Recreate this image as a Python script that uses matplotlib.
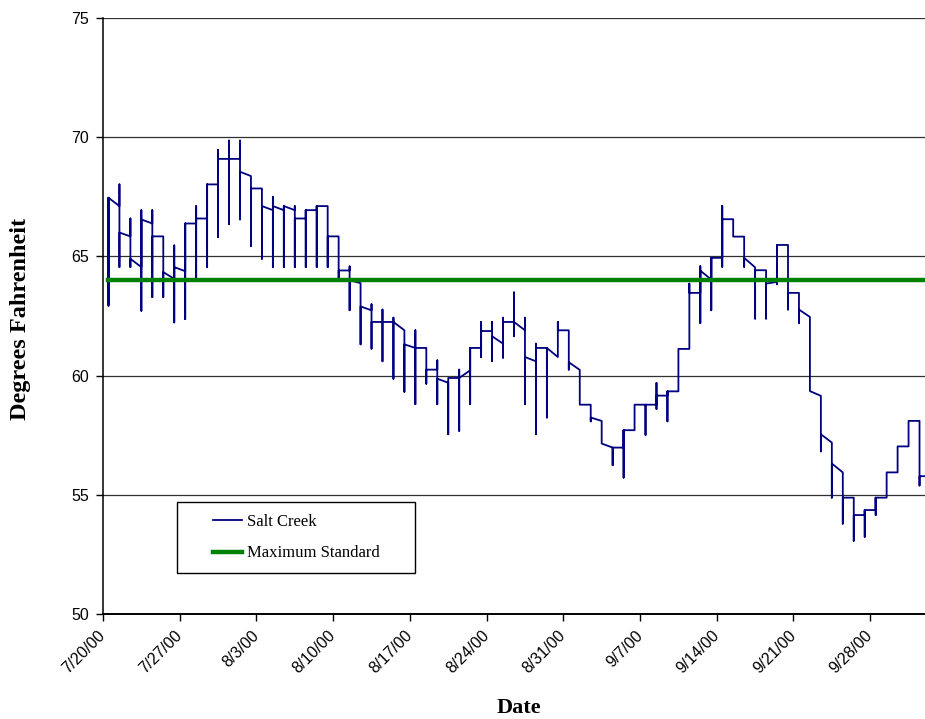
import matplotlib
matplotlib.use('Agg')
import matplotlib.pyplot as plt
from matplotlib.patches import Rectangle
import numpy as np
import pandas as pd

# daily readings, Salt Creek (deg F): first, highest, lowest, last reading of the day
day_open = [63.0, 67.11, 65.84, 64.55, 66.38, 65.84, 64.06, 64.38, 66.38, 66.59,
            68.02, 69.09, 69.09, 68.37, 67.85, 66.94, 66.94, 66.94, 66.59, 66.94,
            67.11, 65.84, 64.41, 63.88, 62.74, 62.25, 62.25, 61.9, 61.16, 61.16,
            60.25, 59.7, 59.9, 60.22, 61.16, 61.87, 61.34, 62.25, 61.9, 60.6,
            61.16, 60.78, 61.9, 60.24, 58.78, 58.1, 56.98, 56.98, 57.71, 58.78,
            58.78, 59.16, 59.34, 61.12, 63.47, 64.03, 64.94, 66.56, 65.83, 64.54,
            64.42, 63.93, 65.48, 63.47, 62.46, 59.15, 57.19, 55.94, 54.88, 54.15,
            54.36, 54.88, 55.94, 57.03, 58.1, 55.78]
day_high = [67.46, 68.02, 66.59, 66.94, 66.94, 65.84, 65.46, 66.38, 67.11, 68.02,
            69.47, 69.86, 69.86, 68.37, 67.85, 67.5, 67.11, 67.11, 66.94, 67.11,
            67.11, 65.84, 64.58, 63.88, 62.99, 62.77, 62.43, 61.9, 61.9, 61.16,
            60.64, 59.87, 60.25, 61.16, 62.25, 62.25, 62.43, 63.49, 62.43, 61.34,
            61.16, 62.25, 61.9, 60.24, 58.78, 58.1, 56.98, 57.71, 58.78, 58.78,
            59.69, 59.34, 61.12, 63.86, 64.59, 64.94, 67.12, 66.56, 65.83, 64.54,
            64.42, 65.48, 65.48, 63.47, 62.46, 59.15, 57.19, 55.94, 54.88, 54.36,
            54.88, 55.94, 57.03, 58.1, 58.1, 55.78]
day_low = [62.93, 64.55, 64.55, 62.72, 63.29, 63.29, 62.23, 62.37, 63.99, 64.55,
           65.81, 66.35, 66.55, 65.44, 64.9, 64.55, 64.55, 64.55, 64.55, 64.55,
           64.55, 63.99, 62.74, 61.31, 61.13, 60.6, 59.87, 59.32, 58.8, 59.66,
           58.8, 57.54, 57.68, 58.8, 60.78, 60.61, 60.75, 61.65, 58.8, 57.54,
           58.24, 60.78, 60.25, 58.78, 58.08, 57.15, 56.24, 55.72, 57.71, 57.51,
           58.6, 58.08, 59.34, 61.12, 62.2, 62.74, 64.56, 65.83, 64.56, 62.39,
           62.39, 63.83, 62.77, 62.2, 59.35, 56.82, 54.88, 53.79, 53.07, 53.24,
           54.15, 54.88, 55.94, 57.03, 55.39, 55.78]
day_close = [67.46, 66.0, 64.9, 66.55, 65.84, 64.34, 64.55, 66.38, 66.59, 68.02,
             69.09, 69.09, 68.55, 67.85, 67.11, 67.11, 67.11, 66.59, 66.94, 67.11,
             65.84, 64.41, 64.0, 62.9, 62.25, 62.25, 62.25, 61.31, 61.16, 60.25,
             59.87, 59.9, 59.9, 61.16, 61.87, 61.65, 62.25, 62.25, 60.78, 61.16,
             61.16, 61.9, 60.56, 58.78, 58.24, 57.15, 56.98, 57.71, 58.78, 58.78,
             59.16, 59.34, 61.12, 63.47, 64.4, 64.94, 66.56, 65.83, 64.94, 64.42,
             63.86, 65.48, 63.47, 62.77, 59.35, 57.54, 56.31, 54.88, 54.15, 54.36,
             54.88, 55.94, 57.03, 58.1, 55.78, 55.78]
max_standard = 64.0

start = pd.Timestamp('2000-07-20')
n_days = 75
tick_days = list(range(0, n_days, 7))
tick_labels = [f"{d.month}/{d.day}/{d:%y}" for d in (start + pd.to_timedelta(tick_days, unit='D'))]

# all readings of one day share one x (date axis), so each day is a vertical run
xs, ys = [], []
for k in range(len(day_open)):
    for v in (day_open[k], day_high[k], day_low[k], day_close[k]):
        xs.append(k + 0.5)
        ys.append(v)

sans = ['Liberation Sans', 'DejaVu Sans']
serif = ['Liberation Serif', 'DejaVu Serif']

fig = plt.figure(figsize=(9.25, 7.19), dpi=100)
ax = fig.add_axes([103/925, 105/719, 1 - 103/925, 596/719])

ax.plot(xs, ys, color='#000080', linewidth=1.3, label='Salt Creek', zorder=3)
ax.plot([0.5, len(day_open) + 0.5], [max_standard, max_standard], color='#008000',
        linewidth=3.2, label='Maximum Standard', zorder=4)

ax.set_xlim(0, n_days)
ax.set_ylim(50, 75)
ax.set_yticks(np.arange(50, 76, 5))
ax.set_xticks(tick_days)
ax.set_xticklabels(tick_labels, rotation=45, ha='right', va='center', rotation_mode='anchor',
                   family=sans, fontsize=11.5)
for lab in ax.get_yticklabels():
    lab.set_family(sans)
    lab.set_fontsize(11.5)
ax.tick_params(axis='y', length=5, width=1, pad=5, direction='out')
ax.tick_params(axis='x', length=5, width=1, pad=9, direction='out')

ax.yaxis.grid(True, color='#303030', linewidth=0.9)
ax.set_axisbelow(True)
for s in ('top', 'right'):
    ax.spines[s].set_visible(False)
ax.spines['left'].set_linewidth(1.1)
ax.spines['bottom'].set_linewidth(1.4)

ax.set_ylabel('Degrees Fahrenheit', family=serif, fontsize=17.5, fontweight='bold')
ax.yaxis.set_label_coords(-0.087, 0.495)
ax.set_xlabel('Date', family=serif, fontsize=16, fontweight='bold')
ax.xaxis.set_label_coords(0.506, -0.141)

# legend box drawn separately so the entries sit centred with wide side margins
ax.add_patch(Rectangle((0.090, 0.0688), 0.2896, 0.1191, transform=ax.transAxes,
                       facecolor='white', edgecolor='black', linewidth=1.0, zorder=5))
leg = ax.legend(loc='center', bbox_to_anchor=(0.090 + 0.2896/2, 0.0688 + 0.1191/2),
                prop={'family': serif, 'size': 12}, frameon=False,
                handlelength=1.75, handletextpad=0.3, labelspacing=0.95, borderpad=0)
leg.set_zorder(6)
leg._legend_box.align = 'left'

fig.savefig('out.png', dpi=100)
